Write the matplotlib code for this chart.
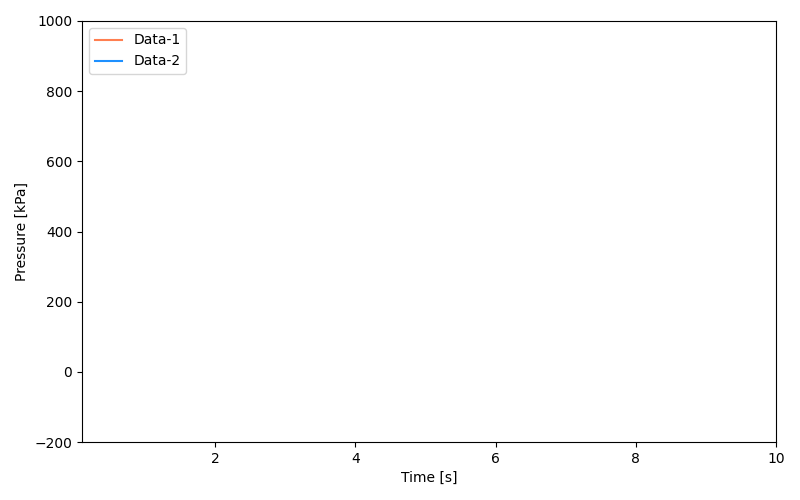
import matplotlib
matplotlib.use("Agg")
from matplotlib import pyplot as plt

# first frame of the recording: no samples yet
time_s = []
pressure_1 = []
pressure_2 = []

labels = ["Data-1", "Data-2"]
colors = ["coral", "dodgerblue"]

fig, ax = plt.subplots(figsize=(8, 5), dpi=100)
ax.plot(time_s, pressure_1, color=colors[0], label=labels[0])
ax.plot(time_s, pressure_2, color=colors[1], label=labels[1])

ax.set_xlim(0.1, 10)
ax.set_ylim(-200, 1000)
ax.set_xlabel("Time [s]")
ax.set_ylabel("Pressure [kPa]")
ax.legend(loc="upper left")

fig.subplots_adjust(left=0.1025, right=0.97, top=0.958, bottom=0.116)
fig.savefig("out.png")
